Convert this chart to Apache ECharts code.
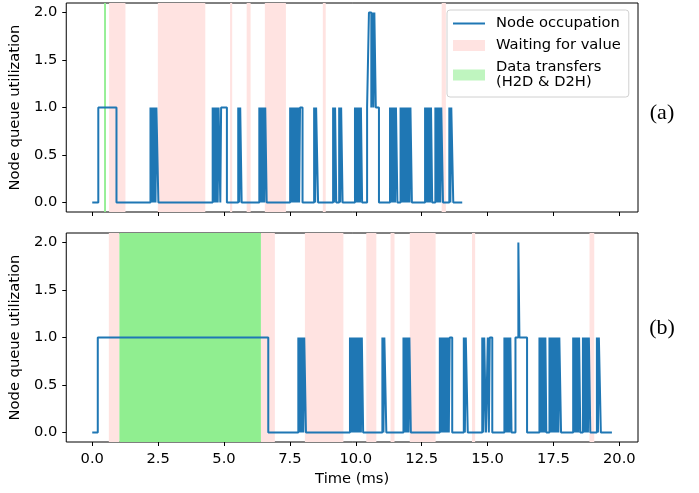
<!DOCTYPE html>
<html>
<head>
<meta charset="utf-8">
<script src="https://cdn.jsdelivr.net/npm/echarts@6/dist/echarts.min.js"></script>
<style>
  html, body { margin: 0; padding: 0; background: #fff; }
  #main { width: 699px; height: 493px; }
</style>
</head>
<body>
<div id="main"></div>
<script>
// x ticks / y ticks
var xTicks = [0, 2.5, 5, 7.5, 10, 12.5, 15, 17.5, 20];
var yTicks = [0, 0.5, 1, 1.5, 2];

// (a) node busy pulses (ms), spikes to 2 on top of them, end of trace
var pulsesA = [
  [0.23, 0.92],
  [2.21, 2.25], [2.285, 2.325], [2.36, 2.40], [2.435, 2.51],
  [4.57, 4.61], [4.645, 4.685], [4.72, 4.76], [4.795, 4.86],
  [4.89, 5.11],
  [5.54, 5.58], [5.615, 5.67],
  [6.34, 6.38], [6.415, 6.455], [6.49, 6.53], [6.565, 6.62],
  [7.51, 7.55], [7.585, 7.625], [7.66, 7.70], [7.735, 7.775], [7.81, 7.85], [7.885, 7.98],
  [8.42, 8.46], [8.495, 8.57],
  [9.14, 9.18], [9.215, 9.26],
  [9.37, 9.41], [9.445, 9.50],
  [9.97, 10.01], [10.045, 10.085], [10.12, 10.16], [10.195, 10.24],
  [10.43, 10.88],
  [11.30, 11.34], [11.375, 11.415], [11.45, 11.49], [11.525, 11.58],
  [11.70, 11.74], [11.775, 11.815], [11.85, 11.89], [11.925, 11.965], [12.00, 12.04], [12.075, 12.13],
  [12.63, 12.67], [12.705, 12.745], [12.78, 12.82], [12.855, 12.90],
  [13.02, 13.06], [13.095, 13.135], [13.17, 13.21], [13.245, 13.31],
  [13.55, 13.59], [13.625, 13.70]
];
var spikesA = [[10.50, 10.59], [10.63, 10.67], [10.705, 10.76]];
var endA = 14.04;

// (b)
var pulsesB = [
  [0.21, 6.68],
  [7.82, 7.86], [7.895, 7.935], [7.97, 8.01], [8.045, 8.11],
  [9.78, 9.82], [9.855, 9.895], [9.93, 9.97], [10.005, 10.045], [10.08, 10.12], [10.155, 10.195], [10.23, 10.28],
  [11.01, 11.05], [11.085, 11.16],
  [11.81, 11.85], [11.885, 11.925], [11.96, 12.00], [12.035, 12.09],
  [13.19, 13.23], [13.265, 13.305], [13.34, 13.38], [13.415, 13.455], [13.49, 13.53], [13.565, 13.66],
  [14.10, 14.14], [14.175, 14.25],
  [14.80, 14.84], [14.875, 14.94],
  [15.01, 15.05], [15.085, 15.18],
  [15.64, 15.68], [15.715, 15.755], [15.79, 15.83], [15.865, 15.91],
  [16.06, 16.50],
  [16.97, 17.01], [17.045, 17.085], [17.12, 17.16], [17.195, 17.23],
  [17.35, 17.39], [17.425, 17.465], [17.50, 17.54], [17.575, 17.615], [17.65, 17.69], [17.725, 17.79],
  [18.25, 18.29], [18.325, 18.365], [18.40, 18.44], [18.475, 18.52],
  [18.62, 18.66], [18.695, 18.735], [18.77, 18.81], [18.845, 18.90],
  [19.15, 19.19], [19.225, 19.30]
];
var spikesB = [[16.17, 16.21]];
var endB = 19.72;

// shaded spans (ms)
var waitA = [[0.64, 1.26], [2.49, 4.29], [5.23, 5.31], [5.86, 6.01], [6.55, 7.35], [8.75, 8.86], [13.26, 13.42]];
var transferA = [[0.45, 0.52]];
var waitB = [[0.63, 1.03], [6.40, 6.93], [8.07, 9.53], [10.40, 10.78], [11.32, 11.47], [12.05, 13.03], [14.41, 14.53], [18.87, 19.05]];
var transferB = [[1.03, 6.40]];

var BLUE = '#1f77b4';
var PINK = '#ffe3e1';
var GREEN = '#90ee90';
var GREEN_LEG = '#bff5bf';
var FONT = 'DejaVu Sans';
var FS = 14.7;

function toSteps(pulses, spikes, end) {
  var edges = [];
  pulses.concat(spikes).forEach(function (p) {
    edges.push([p[0], 1]);
    edges.push([p[1], -1]);
  });
  edges.sort(function (a, b) { return a[0] - b[0]; });
  var pts = [[0, 0]];
  var lvl = 0;
  edges.forEach(function (e) {
    lvl += e[1];
    pts.push([e[0], lvl]);
  });
  pts.push([end, 0]);
  return pts;
}

function spans(list) {
  return list.map(function (s) { return [{ xAxis: s[0] }, { xAxis: s[1] }]; });
}

var chart = echarts.init(document.getElementById('main'));

function xAxisOf(idx, showLabels) {
  return {
    type: 'value', gridIndex: idx, min: -0.986, max: 20.71,
    splitLine: { show: false },
    axisLine: { show: false, onZero: false },
    axisTick: { show: true, customValues: xTicks, length: 4, lineStyle: { color: '#000', width: 1 } },
    axisLabel: {
      show: showLabels, customValues: xTicks, margin: 10,
      color: '#000', fontFamily: FONT, fontSize: FS,
      formatter: function (v) { return v.toFixed(1); }
    },
    name: showLabels ? 'Time (ms)' : '',
    nameLocation: 'middle', nameGap: 30,
    nameTextStyle: { color: '#000', fontFamily: FONT, fontSize: FS }
  };
}
function yAxisOf(idx) {
  return {
    type: 'value', gridIndex: idx, min: -0.1, max: 2.1,
    splitLine: { show: false },
    axisLine: { show: false, onZero: false },
    axisTick: { show: true, customValues: yTicks, length: 4, lineStyle: { color: '#000', width: 1 } },
    axisLabel: {
      customValues: yTicks, margin: 9,
      color: '#000', fontFamily: FONT, fontSize: FS,
      formatter: function (v) { return v.toFixed(1); }
    },
    name: 'Node queue utilization',
    nameLocation: 'middle', nameGap: 41, nameRotate: 90,
    nameTextStyle: { color: '#000', fontFamily: FONT, fontSize: FS }
  };
}

function areaSeries(idx, name, list, color) {
  return {
    name: name, type: 'line', xAxisIndex: idx, yAxisIndex: idx,
    data: [], symbol: 'none', z: 1, silent: true,
    itemStyle: { color: color },
    markArea: { silent: true, itemStyle: { color: color }, data: spans(list) }
  };
}
function stepSeries(idx, data) {
  return {
    name: 'Node occupation', type: 'line', xAxisIndex: idx, yAxisIndex: idx,
    step: 'end', symbol: 'none', z: 5, animation: false,
    lineStyle: { color: BLUE, width: 2 },
    itemStyle: { color: BLUE },
    data: data
  };
}

var TRANSFER = 'Data transfers\n(H2D & D2H)';

var option = {
  animation: false,
  grid: [
    { left: 65, top: 3, width: 573, height: 209, show: true, borderColor: '#000', borderWidth: 1, containLabel: false },
    { left: 65, top: 233, width: 573, height: 209, show: true, borderColor: '#000', borderWidth: 1, containLabel: false }
  ],
  xAxis: [xAxisOf(0, false), xAxisOf(1, true)],
  yAxis: [yAxisOf(0), yAxisOf(1)],
  legend: {
    left: 447, top: 10, orient: 'vertical',
    padding: [6, 8, 7, 6], itemGap: 7, itemWidth: 32, itemHeight: 11,
    borderColor: '#d0d0d0', borderWidth: 1, borderRadius: 3,
    backgroundColor: 'rgba(255,255,255,0.85)',
    textStyle: { color: '#000', fontFamily: FONT, fontSize: FS, lineHeight: 15, padding: [0, 0, 0, 6] },
    data: [
      { name: 'Node occupation', icon: 'path://M0,0H32V2H0Z', itemStyle: { color: BLUE } },
      { name: 'Waiting for value', icon: 'rect', itemStyle: { color: PINK } },
      { name: TRANSFER, icon: 'rect', itemStyle: { color: GREEN_LEG } }
    ]
  },
  graphic: [
    { type: 'text', x: 662, y: 113, style: { text: '(a)', font: '22px "Liberation Serif"', fill: '#000', align: 'center', verticalAlign: 'middle' } },
    { type: 'text', x: 662, y: 328, style: { text: '(b)', font: '22px "Liberation Serif"', fill: '#000', align: 'center', verticalAlign: 'middle' } }
  ],
  series: [
    areaSeries(0, 'Waiting for value', waitA, PINK),
    areaSeries(0, TRANSFER, transferA, GREEN),
    stepSeries(0, toSteps(pulsesA, spikesA, endA)),
    areaSeries(1, 'Waiting for value', waitB, PINK),
    areaSeries(1, TRANSFER, transferB, GREEN),
    stepSeries(1, toSteps(pulsesB, spikesB, endB))
  ]
};

chart.setOption(option);
</script>
</body>
</html>
